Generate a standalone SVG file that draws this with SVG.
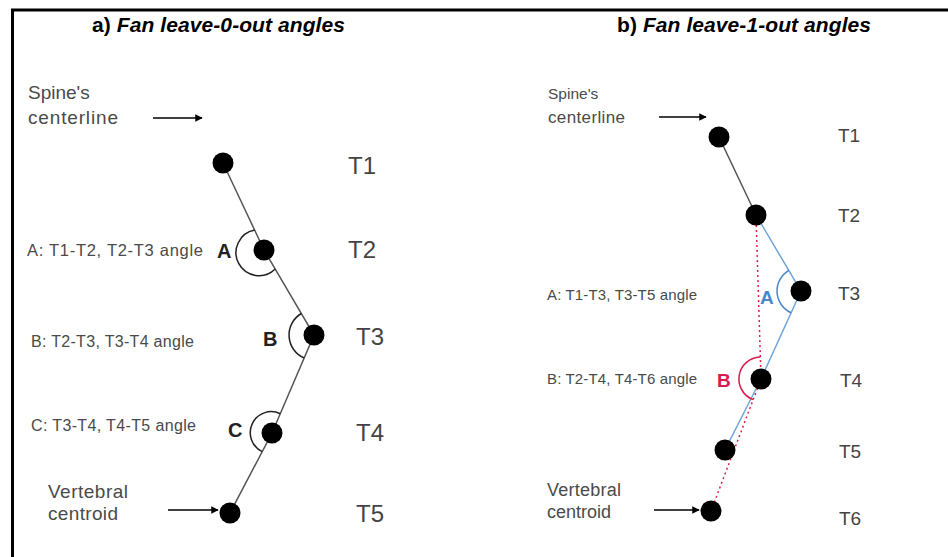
<svg xmlns="http://www.w3.org/2000/svg" width="948" height="557" viewBox="0 0 948 557">
  <style>
    .title { font-family: "Liberation Sans", Arial, sans-serif; font-size: 21px; font-weight: bold; fill: #000; }
    .lbl { font-family: "Liberation Sans", Arial, sans-serif; fill: #4a4a4a; }
    .tl { font-family: "Liberation Sans", Arial, sans-serif; font-size: 24px; fill: #444; }
    .tlb { font-family: "Liberation Sans", Arial, sans-serif; font-size: 19px; fill: #444; }
    .big { font-family: "Liberation Sans", Arial, sans-serif; font-size: 20px; font-weight: bold; fill: #222; }
    .dot { fill: #000; }
    .spine { stroke: #555; stroke-width: 1.5; fill: none; }
    .blue { stroke: #6fa6da; stroke-width: 1.5; fill: none; }
    .red { stroke: #e0204a; stroke-width: 1.5; fill: none; stroke-dasharray: 2 3; }
    .arc { stroke: #222; stroke-width: 1.5; fill: none; }
    .arr { stroke: #000; stroke-width: 1.5; fill: none; marker-end: url(#ah); }
  </style>
  <defs>
    <marker id="ah" viewBox="0 0 10 10" refX="9" refY="5" markerWidth="5" markerHeight="5" orient="auto" markerUnits="strokeWidth">
      <path d="M0,0 L10,5 L0,10 z" fill="#000"/>
    </marker>
  </defs>
  <rect x="0" y="0" width="948" height="557" fill="#fff"/>
  <path d="M12.5,557 V10 H948" stroke="#000" stroke-width="3" fill="none"/>

  <g id="titles">
    <text class="title" x="92" y="32" textLength="253">a) <tspan font-style="italic">Fan leave-0-out angles</tspan></text>
    <text class="title" x="617" y="32" textLength="254">b) <tspan font-style="italic">Fan leave-1-out angles</tspan></text>
  </g>

  <!-- connectors -->
  <g id="connectors">
    <polyline class="spine" points="223,163 264,250 314,335 272,433 230,513"/>
    <path class="arc" d="M254.6,230.1 A23,23 0 1 0 275.2,269.0"/>
    <path class="arc" d="M301.3,313.5 A25,25 0 0 0 304.2,358.0"/>
    <path class="arc" d="M280.3,413.7 A21,21 0 0 0 262.2,451.6"/>
    <line class="arr" x1="153" y1="118" x2="202" y2="118"/>
    <line class="arr" x1="168" y1="510" x2="218" y2="510"/>

    <line class="spine" x1="719" y1="137" x2="756" y2="215"/>
    <polyline class="blue" points="756,215 801,291 761,379 725,450"/>
    <line class="red" x1="756" y1="215" x2="761" y2="379"/>
    <line class="red" x1="761" y1="379" x2="711" y2="511"/>
    <path d="M788.8,270.3 A24,24 0 0 0 791.1,312.8" stroke="#4a86c8" stroke-width="1.5" fill="none"/>
    <path d="M760.3,357 A22,22 0 0 0 753.2,399.6" stroke="#d81b4c" stroke-width="1.5" fill="none"/>
    <line class="arr" x1="659" y1="117" x2="706" y2="117"/>
    <line class="arr" x1="654" y1="510" x2="699" y2="510"/>
  </g>

  <!-- panel a -->
  <g id="a-spine-label">
    <text class="lbl" x="28" y="99" font-size="19">Spine's</text>
    <text class="lbl" x="28" y="124" font-size="19" textLength="90">centerline</text>
  </g>
  <g id="a-centroid-label">
    <text class="lbl" x="48" y="498" font-size="19" textLength="80">Vertebral</text>
    <text class="lbl" x="48" y="520" font-size="19" textLength="70">centroid</text>
  </g>
  <g id="a-T1"><circle class="dot" cx="223" cy="163" r="10.5"/><text class="tl" x="348" y="174">T1</text></g>
  <g id="a-T2"><circle class="dot" cx="264" cy="250" r="10.5"/><text class="tl" x="348" y="258">T2</text></g>
  <g id="a-T3"><circle class="dot" cx="314" cy="335" r="10.5"/><text class="tl" x="356" y="345">T3</text></g>
  <g id="a-T4"><circle class="dot" cx="272" cy="433" r="10.5"/><text class="tl" x="356" y="441">T4</text></g>
  <g id="a-T5"><circle class="dot" cx="230" cy="513" r="10.5"/><text class="tl" x="356" y="522">T5</text></g>
  <g id="a-angleA">
    <text class="lbl" x="27" y="256" font-size="16.5" textLength="176">A: T1-T2, T2-T3 angle</text>
    <text class="big" x="217" y="258">A</text>
  </g>
  <g id="a-angleB">
    <text class="lbl" x="31" y="347" font-size="16" textLength="163">B: T2-T3, T3-T4 angle</text>
    <text class="big" x="263" y="346">B</text>
  </g>
  <g id="a-angleC">
    <text class="lbl" x="31" y="431" font-size="16" textLength="165">C: T3-T4, T4-T5 angle</text>
    <text class="big" x="228" y="437">C</text>
  </g>

  <!-- panel b -->
  <g id="b-spine-label">
    <text class="lbl" x="548" y="99" font-size="15.5">Spine's</text>
    <text class="lbl" x="548" y="123" font-size="17" textLength="77">centerline</text>
  </g>
  <g id="b-centroid-label">
    <text class="lbl" x="547" y="496" font-size="18" textLength="74">Vertebral</text>
    <text class="lbl" x="547" y="518" font-size="18" textLength="64">centroid</text>
  </g>
  <g id="b-T1"><circle class="dot" cx="719" cy="137" r="10.5"/><text class="tlb" x="838" y="142">T1</text></g>
  <g id="b-T2"><circle class="dot" cx="756" cy="215" r="10.5"/><text class="tlb" x="838" y="222">T2</text></g>
  <g id="b-T3"><circle class="dot" cx="801" cy="291" r="10.5"/><text class="tlb" x="838" y="300">T3</text></g>
  <g id="b-T4"><circle class="dot" cx="761" cy="379" r="10.5"/><text class="tlb" x="840" y="387">T4</text></g>
  <g id="b-T5"><circle class="dot" cx="725" cy="450" r="10.5"/><text class="tlb" x="839" y="458">T5</text></g>
  <g id="b-T6"><circle class="dot" cx="711" cy="511" r="10.5"/><text class="tlb" x="839" y="525">T6</text></g>
  <g id="b-angleA">
    <text class="lbl" x="547" y="300" font-size="15" textLength="150">A: T1-T3, T3-T5 angle</text>
    <text x="760" y="304" font-family="Liberation Sans, Arial, sans-serif" font-size="19" font-weight="bold" fill="#4a86c8">A</text>
  </g>
  <g id="b-angleB">
    <text class="lbl" x="547" y="384" font-size="15" textLength="150">B: T2-T4, T4-T6 angle</text>
    <text x="717" y="387" font-family="Liberation Sans, Arial, sans-serif" font-size="19" font-weight="bold" fill="#d81b4c">B</text>
  </g>
</svg>
